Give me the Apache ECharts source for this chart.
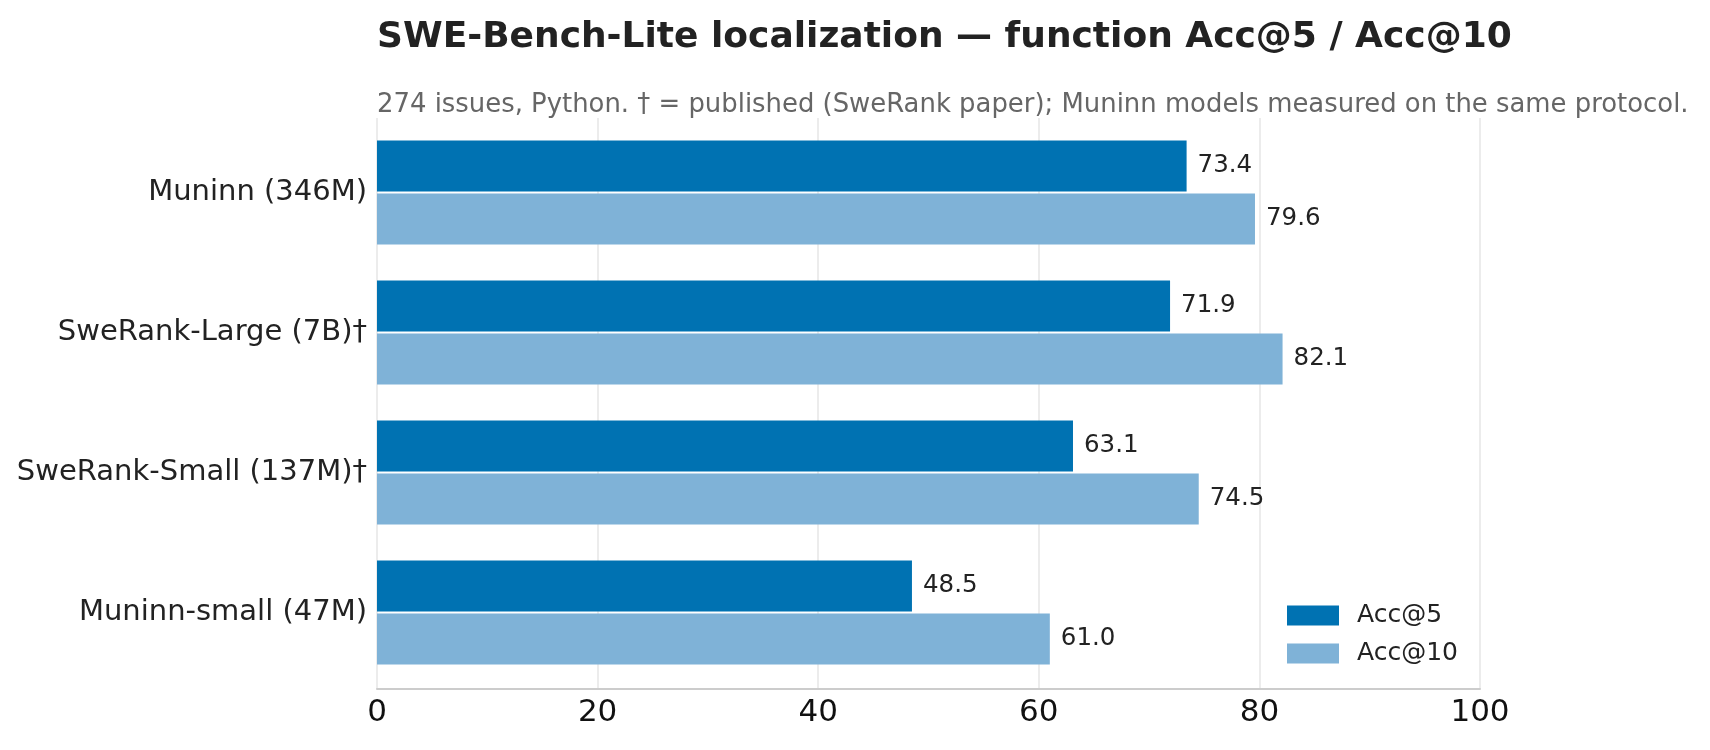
<!DOCTYPE html>
<html>
<head>
<meta charset="utf-8">
<script src="https://cdn.jsdelivr.net/npm/echarts@6/dist/echarts.min.js"></script>
<style>
html,body{margin:0;padding:0;background:#fff;}
#chart{width:1710px;height:750px;}
</style>
</head>
<body>
<div id="chart"></div>
<script>
const categories = ['Muninn (346M)', 'SweRank-Large (7B)†', 'SweRank-Small (137M)†', 'Muninn-small (47M)'];
const acc5 = [73.4, 71.9, 63.1, 48.5];
const acc10 = [79.6, 82.1, 74.5, 61.0];
const xTicks = [0, 20, 40, 60, 80, 100];
const titleText = 'SWE-Bench-Lite localization — function Acc@5 / Acc@10';
const subtitleText = '274 issues, Python. † = published (SweRank paper); Muninn models measured on the same protocol.';

const FONT = 'DejaVu Sans';
const chart = echarts.init(document.getElementById('chart'), null, {renderer: 'canvas'});

const GL = 377, GR = 1710 - 1480;

chart.setOption({
  backgroundColor: '#ffffff',
  animation: false,
  textStyle: {fontFamily: FONT},
  title: [
    {text: titleText, left: GL, top: 20, padding: 0,
     textStyle: {fontFamily: FONT, fontSize: 36, fontWeight: 'bold', color: '#222222'}},
    {text: subtitleText, left: GL, top: 92, padding: 0,
     textStyle: {fontFamily: FONT, fontSize: 25.9, fontWeight: 'normal', color: '#666666'}}
  ],
  legend: {
    orient: 'vertical', left: 1287, top: 603, padding: 0,
    icon: 'rect',
    itemWidth: 52, itemHeight: 20, itemGap: 13,
    textStyle: {fontFamily: FONT, fontSize: 25, color: '#222222', padding: [0, 0, 0, 13]},
    data: ['Acc@5', 'Acc@10']
  },
  grid: [
    {left: GL, right: GR, top: 118, bottom: 750 - 689, containLabel: false},
    {left: GL, right: GR, top: 122.5, bottom: 750 - 682.5, containLabel: false}
  ],
  xAxis: [
    {type: 'value', gridIndex: 0, min: 0, max: 100, interval: 20,
     axisLine: {show: true, lineStyle: {color: '#cccccc', width: 2}},
     axisTick: {show: false},
     splitLine: {show: true, lineStyle: {color: '#e6e6e6', width: 1.5}},
     axisLabel: {fontFamily: FONT, fontSize: 31, color: '#111111', margin: 8,
       formatter: v => xTicks.includes(v) ? String(v) : ''}},
    {type: 'value', gridIndex: 1, min: 0, max: 100, interval: 20, show: false}
  ],
  yAxis: [
    {type: 'category', gridIndex: 0, data: categories, inverse: true, show: false},
    {type: 'category', gridIndex: 1, data: categories, inverse: true,
     axisLine: {show: false}, axisTick: {show: false},
     axisLabel: {fontFamily: FONT, fontSize: 29, color: '#222222', margin: 10,
       padding: [4, 0, 0, 0]}}
  ],
  series: [
    {name: 'Acc@5', type: 'bar', xAxisIndex: 1, yAxisIndex: 1, data: acc5,
     barWidth: 51, barGap: '4%',
     itemStyle: {color: '#0072B2'},
     label: {show: true, position: 'right', distance: 11, fontFamily: FONT, fontSize: 24.5, color: '#222222',
       formatter: p => p.value.toFixed(1)}},
    {name: 'Acc@10', type: 'bar', xAxisIndex: 1, yAxisIndex: 1, data: acc10,
     barWidth: 51, barGap: '4%',
     itemStyle: {color: '#7FB2D7'},
     label: {show: true, position: 'right', distance: 11, fontFamily: FONT, fontSize: 24.5, color: '#222222',
       formatter: p => p.value.toFixed(1)}}
  ]
});
</script>
</body>
</html>
